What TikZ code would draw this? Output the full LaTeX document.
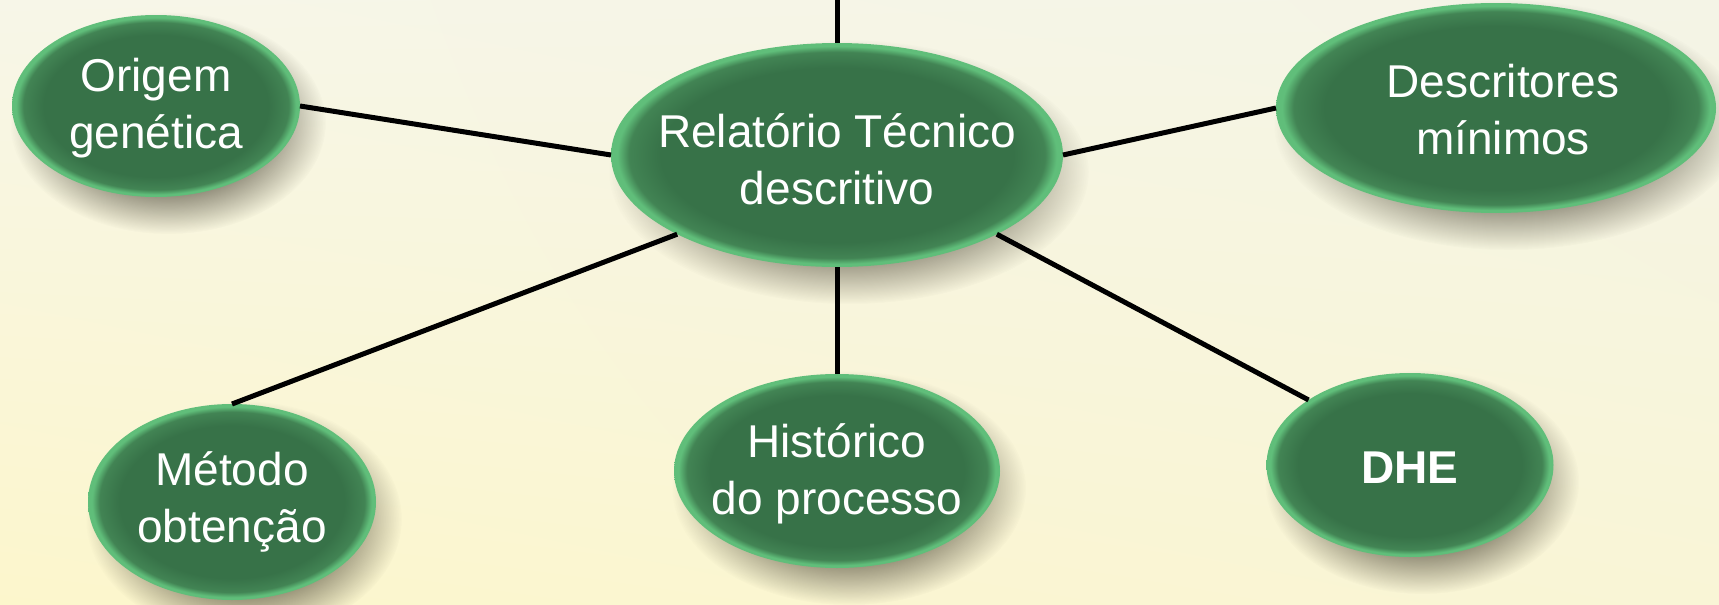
\documentclass[tikz,border=0pt]{standalone}
\usepackage{fontspec}
\setmainfont{Liberation Sans}
\usetikzlibrary{shapes.geometric,shadings,fadings}
\definecolor{gdark}{RGB}{55,114,72}
\definecolor{gmid}{RGB}{66,132,84}
\definecolor{glight}{RGB}{96,190,122}
\definecolor{bgTL}{RGB}{247,246,232}
\definecolor{bgTR}{RGB}{244,244,230}
\definecolor{bgBL}{RGB}{252,246,204}
\definecolor{bgBR}{RGB}{249,245,214}
\definecolor{shadowcol}{RGB}{60,55,40}
\pgfdeclareradialshading{greenball}{\pgfpoint{0bp}{0bp}}{color(0bp)=(gdark); color(19.5bp)=(gdark); color(23bp)=(gmid); color(24.3bp)=(glight); color(25bp)=(glight); color(50bp)=(glight)}
\pgfdeclareradialshading{shfade}{\pgfpointorigin}{color(0bp)=(white); color(15bp)=(white); color(25bp)=(black); color(50bp)=(black)}
\pgfdeclarefading{shfade}{\pgfuseshading{shfade}}
\tikzset{
  bubble/.style={ellipse, inner sep=0pt, outer sep=0pt, shading=greenball},
  bubtext/.style={text=white, align=center, inner sep=0pt, font=\fontsize{46}{57}\selectfont},
  shadowfill/.style={fill=shadowcol, fill opacity=0.6, path fading=shfade},
  link/.style={line width=5pt, black}
}
\newcommand\bubshadow[3]{\fill[shadowfill] ([shift={(12pt,-17pt)}]#1.center) ellipse [x radius=#2, y radius=#3];}
\begin{document}
\begin{tikzpicture}[x=1pt,y=-1pt]
\fill[upper left=bgTL, upper right=bgTR, lower left=bgBL, lower right=bgBR] (0,0) rectangle (1719,605);
\useasboundingbox (0,0) rectangle (1719,605);
\coordinate (top) at (837,0);
\coordinate (Cp) at (837,155);
\coordinate (Op) at (156,106);
\coordinate (Dp) at (1496,108);
\coordinate (Mp) at (232,502);
\coordinate (Hp) at (837,471);
\coordinate (Ep) at (1410,465);
\bubshadow{Cp}{240}{132}
\bubshadow{Op}{158}{111}
\bubshadow{Dp}{234}{125}
\bubshadow{Mp}{158}{118}
\bubshadow{Hp}{177}{117}
\bubshadow{Ep}{157}{112}
\node[bubble, minimum width=452pt, minimum height=224pt] (C) at (Cp) {};
\node[bubble, minimum width=288pt, minimum height=182pt] (O) at (Op) {};
\node[bubble, minimum width=440pt, minimum height=210pt] (D) at (Dp) {};
\node[bubble, minimum width=288pt, minimum height=196pt] (M) at (Mp) {};
\node[bubble, minimum width=326pt, minimum height=194pt] (H) at (Hp) {};
\node[bubble, minimum width=287pt, minimum height=184pt] (E) at (Ep) {};
\node[bubtext] (Ct) at ([yshift=-4pt]C.center) {Relatório Técnico\\descritivo};
\node[bubtext] (Ot) at ([yshift=-2pt]O.center) {Origem\\genética};
\node[bubtext] (Dt) at ([xshift=7pt,yshift=-2pt]D.center) {Descritores\\mínimos};
\node[bubtext] (Mt) at ([yshift=0pt]M.center) {Método\\obtenção};
\node[bubtext] (Ht) at ([yshift=-3pt]H.center) {Histórico\\do processo};
\node[bubtext, font=\fontsize{46}{57}\selectfont\bfseries] (Et) at ([yshift=-3pt]E.center) {DHE};
\draw[link] (top) -- (C.north);
\draw[link] (O.east) -- (C.west);
\draw[link] (C.east) -- (D.west);
\draw[link] (C.south west) -- (M.north);
\draw[link] (C.south) -- (H.north);
\draw[link] (C.south east) -- (E.north west);
\end{tikzpicture}
\end{document}
